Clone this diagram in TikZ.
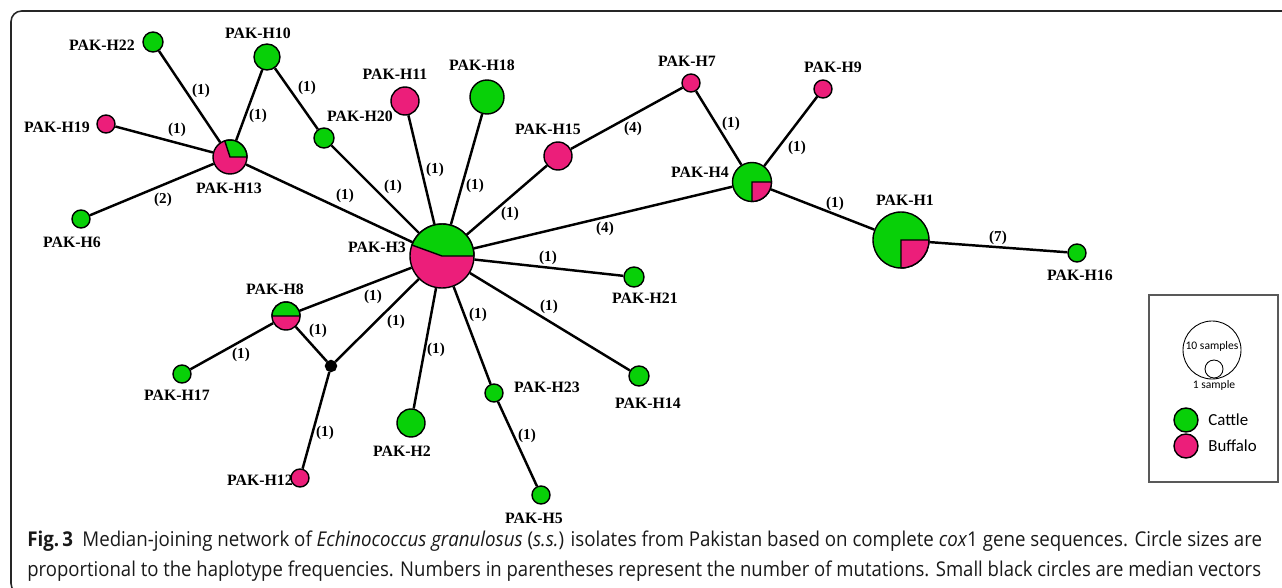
\documentclass[tikz,border=0pt]{standalone}
\usepackage{fontspec}
\setmainfont{Liberation Serif}
\newfontfamily\capfont{Open Sans}
\newfontfamily\legfont{Carlito}
\usepackage{graphicx}
\definecolor{cattle}{RGB}{8,208,8}
\definecolor{buffalo}{RGB}{236,30,122}
\def\piesector[#1](#2)(#3:#4:#5){\filldraw[#1] (#2) -- ++(#3:#5) arc (#3:#4:#5) -- cycle;}

\begin{document}
\begin{tikzpicture}[x=0.02cm, y=0.02cm,
		hap/.style={circle, draw=black, line width=0.8pt, inner sep=0pt, minimum size=#1*0.02cm},
		cow/.style={hap=#1, fill=cattle},
		buf/.style={hap=#1, fill=buffalo},
		link/.style={line width=1.4pt},
		lab/.style={font=\fontsize{9}{10}\selectfont\bfseries, inner sep=0pt},
		mut/.style={font=\fontsize{8.6}{10}\selectfont\bfseries, inner sep=0pt}]
			%%%%% START %%%%%
			
			\useasboundingbox (0,0) rectangle (1282,-588);
			\clip (0,0) rectangle (1282,-588);
			\draw[line width=0.9pt, color=black!85, rounded corners=6pt] (1290,-11) -- (11,-11) -- (11,-594) -- (40,-594);
			
			% haplotypes
			\node[cow=20] (h22) at (153,-42) {};
			\node[cow=26] (h10) at (267,-57) {};
			\node[cow=20] (h20) at (324,-138) {};
			\node[buf=28] (h11) at (405,-101) {};
			\node[cow=34] (h18) at (487,-97) {};
			\node[buf=28] (h15) at (558,-156) {};
			\node[buf=18] (h7) at (691,-83) {};
			\node[buf=18] (h9) at (823,-89) {};
			\node[buf=18] (h19) at (106,-124) {};
			\node[cow=18] (h6) at (81,-219) {};
			\node[buf=34] (h13) at (230,-157) {};
			\node[buf=64] (h3) at (442,-256) {};
			\node[cow=39] (h4) at (752,-182) {};
			\node[cow=56] (h1) at (901,-240) {};
			\node[cow=18] (h16) at (1077,-253) {};
			\node[cow=20] (h21) at (634,-277) {};
			\node[cow=20] (h14) at (639,-376) {};
			\node[cow=18] (h23) at (494,-393) {};
			\node[cow=18] (h5) at (541,-495) {};
			\node[cow=28] (h2) at (411,-423) {};
			\node[buf=18] (h12) at (300,-478) {};
			\node[cow=18] (h17) at (182,-374) {};
			\node[buf=28] (h8) at (286,-316) {};
			\node[hap=11, fill=black] (mv) at (331,-366) {};
			
			% mixed circles
			\piesector[fill=cattle, line width=0.8pt](h3.center)(0:160:0.64cm)
			\piesector[fill=cattle, line width=0.8pt](h13.center)(0:108:0.34cm)
			\piesector[fill=buffalo, line width=0.8pt](h4.center)(-90:0:0.39cm)
			\piesector[fill=buffalo, line width=0.8pt](h1.center)(-90:0:0.56cm)
			\piesector[fill=cattle, line width=0.8pt](h8.center)(0:180:0.28cm)
			
			% links
			\draw[link] (h22) -- (h13);
			\draw[link] (h10) -- (h13);
			\draw[link] (h10) -- (h20);
			\draw[link] (h19) -- (h13);
			\draw[link] (h6) -- (h13);
			\draw[link] (h13) -- (h3);
			\draw[link] (h20) -- (h3);
			\draw[link] (h11) -- (h3);
			\draw[link] (h18) -- (h3);
			\draw[link] (h15) -- (h3);
			\draw[link] (h15) -- (h7);
			\draw[link] (h3) -- (h4);
			\draw[link] (h7) -- (h4);
			\draw[link] (h9) -- (h4);
			\draw[link] (h4) -- (h1);
			\draw[link] (h1) -- (h16);
			\draw[link] (h3) -- (h21);
			\draw[link] (h3) -- (h14);
			\draw[link] (h3) -- (h23);
			\draw[link] (h23) -- (h5);
			\draw[link] (h3) -- (h2);
			\draw[link] (h3) -- (h8);
			\draw[link] (h3) -- (mv);
			\draw[link] (h8) -- (mv);
			\draw[link] (h8) -- (h17);
			\draw[link] (mv) -- (h12);
			
			% names
			\node[lab] (t22) at (102,-45) {PAK-H22};
			\node[lab] (t10) at (258,-33) {PAK-H10};
			\node[lab] (t20) at (360,-116) {PAK-H20};
			\node[lab] (t11) at (395,-74) {PAK-H11};
			\node[lab] (t18) at (482,-65) {PAK-H18};
			\node[lab] (t15) at (548,-129) {PAK-H15};
			\node[lab] (t7) at (687,-61) {PAK-H7};
			\node[lab] (t9) at (833,-67) {PAK-H9};
			\node[lab] (t19) at (57,-127) {PAK-H19};
			\node[lab] (t6) at (72,-242) {PAK-H6};
			\node[lab] (t13) at (229,-188) {PAK-H13};
			\node[lab] (t3) at (377,-247) {PAK-H3};
			\node[lab] (t4) at (700,-172) {PAK-H4};
			\node[lab] (t1) at (905,-200) {PAK-H1};
			\node[lab] (t16) at (1080,-275) {PAK-H16};
			\node[lab] (t21) at (645,-298) {PAK-H21};
			\node[lab] (t14) at (648,-403) {PAK-H14};
			\node[lab] (t23) at (547,-387) {PAK-H23};
			\node[lab] (t5) at (534,-518) {PAK-H5};
			\node[lab] (t2) at (402,-451) {PAK-H2};
			\node[lab] (t12) at (260,-480) {PAK-H12};
			\node[lab] (t17) at (177,-395) {PAK-H17};
			\node[lab] (t8) at (275,-289) {PAK-H8};
			
			% mutations
			\node[mut] (m22) at (201,-91) {(1)};
			\node[mut] (m10) at (258,-116) {(1)};
			\node[mut] (m10b) at (307,-88) {(1)};
			\node[mut] (m19) at (177,-130) {(1)};
			\node[mut] (m6) at (163,-200) {(2)};
			\node[mut] (m13) at (345,-196) {(1)};
			\node[mut] (m20) at (393,-187) {(1)};
			\node[mut] (m11) at (435,-170) {(1)};
			\node[mut] (m18) at (475,-186) {(1)};
			\node[mut] (m15) at (510,-214) {(1)};
			\node[mut] (m7) at (633,-129) {(4)};
			\node[mut] (m4) at (605,-229) {(4)};
			\node[mut] (m7b) at (731,-124) {(1)};
			\node[mut] (m9) at (797,-148) {(1)};
			\node[mut] (m1) at (835,-204) {(1)};
			\node[mut] (m16) at (998,-238) {(7)};
			\node[mut] (m21) at (548,-258) {(1)};
			\node[mut] (m14) at (549,-307) {(1)};
			\node[mut] (m23) at (478,-315) {(1)};
			\node[mut] (m5) at (527,-436) {(1)};
			\node[mut] (m2) at (436,-350) {(1)};
			\node[mut] (m8) at (373,-297) {(1)};
			\node[mut] (mmv) at (396,-322) {(1)};
			\node[mut] (m8b) at (318,-331) {(1)};
			\node[mut] (m17) at (241,-355) {(1)};
			\node[mut] (m12) at (325,-433) {(1)};
			
			% legend
			\draw[line width=0.9pt, color=black!65] (1149,-295) rectangle (1278,-482);
			\node[hap=58, line width=0.5pt] (big) at (1212,-350) {};
			\node[hap=18, line width=0.5pt] (small) at (1214,-369) {};
			\node[font=\legfont\fontsize{6.6}{7}\selectfont, inner sep=0pt] (tbig) at (1212,-346) {10 samples};
			\node[font=\legfont\fontsize{6.6}{7}\selectfont, inner sep=0pt] (tsmall) at (1214,-385) {1 sample};
			\node[cow=24] (kc) at (1186,-420) {};
			\node[buf=24] (kb) at (1186,-446) {};
			\node[font=\legfont\fontsize{9.6}{11}\selectfont, inner sep=0pt, anchor=west] (tc) at (1208,-420) {Cattle};
			\node[font=\legfont\fontsize{9.6}{11}\selectfont, inner sep=0pt, anchor=west] (tb) at (1208,-446) {Buffalo};
			
			% caption
			\node[font=\capfont\fontsize{11.6}{13}\selectfont, color=black!90, inner sep=0pt, anchor=west] (cap1) at (27,-541)
				{\resizebox{24.7cm}{\height}{\textbf{Fig.\,3}\enskip Median-joining network of \textit{Echinococcus granulosus} (\textit{s.s.}) isolates from Pakistan based on complete \textit{cox}1 gene sequences. Circle sizes are}};
			\node[font=\capfont\fontsize{11.6}{13}\selectfont, color=black!90, inner sep=0pt, anchor=west] (cap2) at (27,-571)
				{\resizebox{24.68cm}{\height}{proportional to the haplotype frequencies. Numbers in parentheses represent the number of mutations. Small black circles are median vectors}};
			
			%%%%% END %%%%%
		\end{tikzpicture}
\end{document}
